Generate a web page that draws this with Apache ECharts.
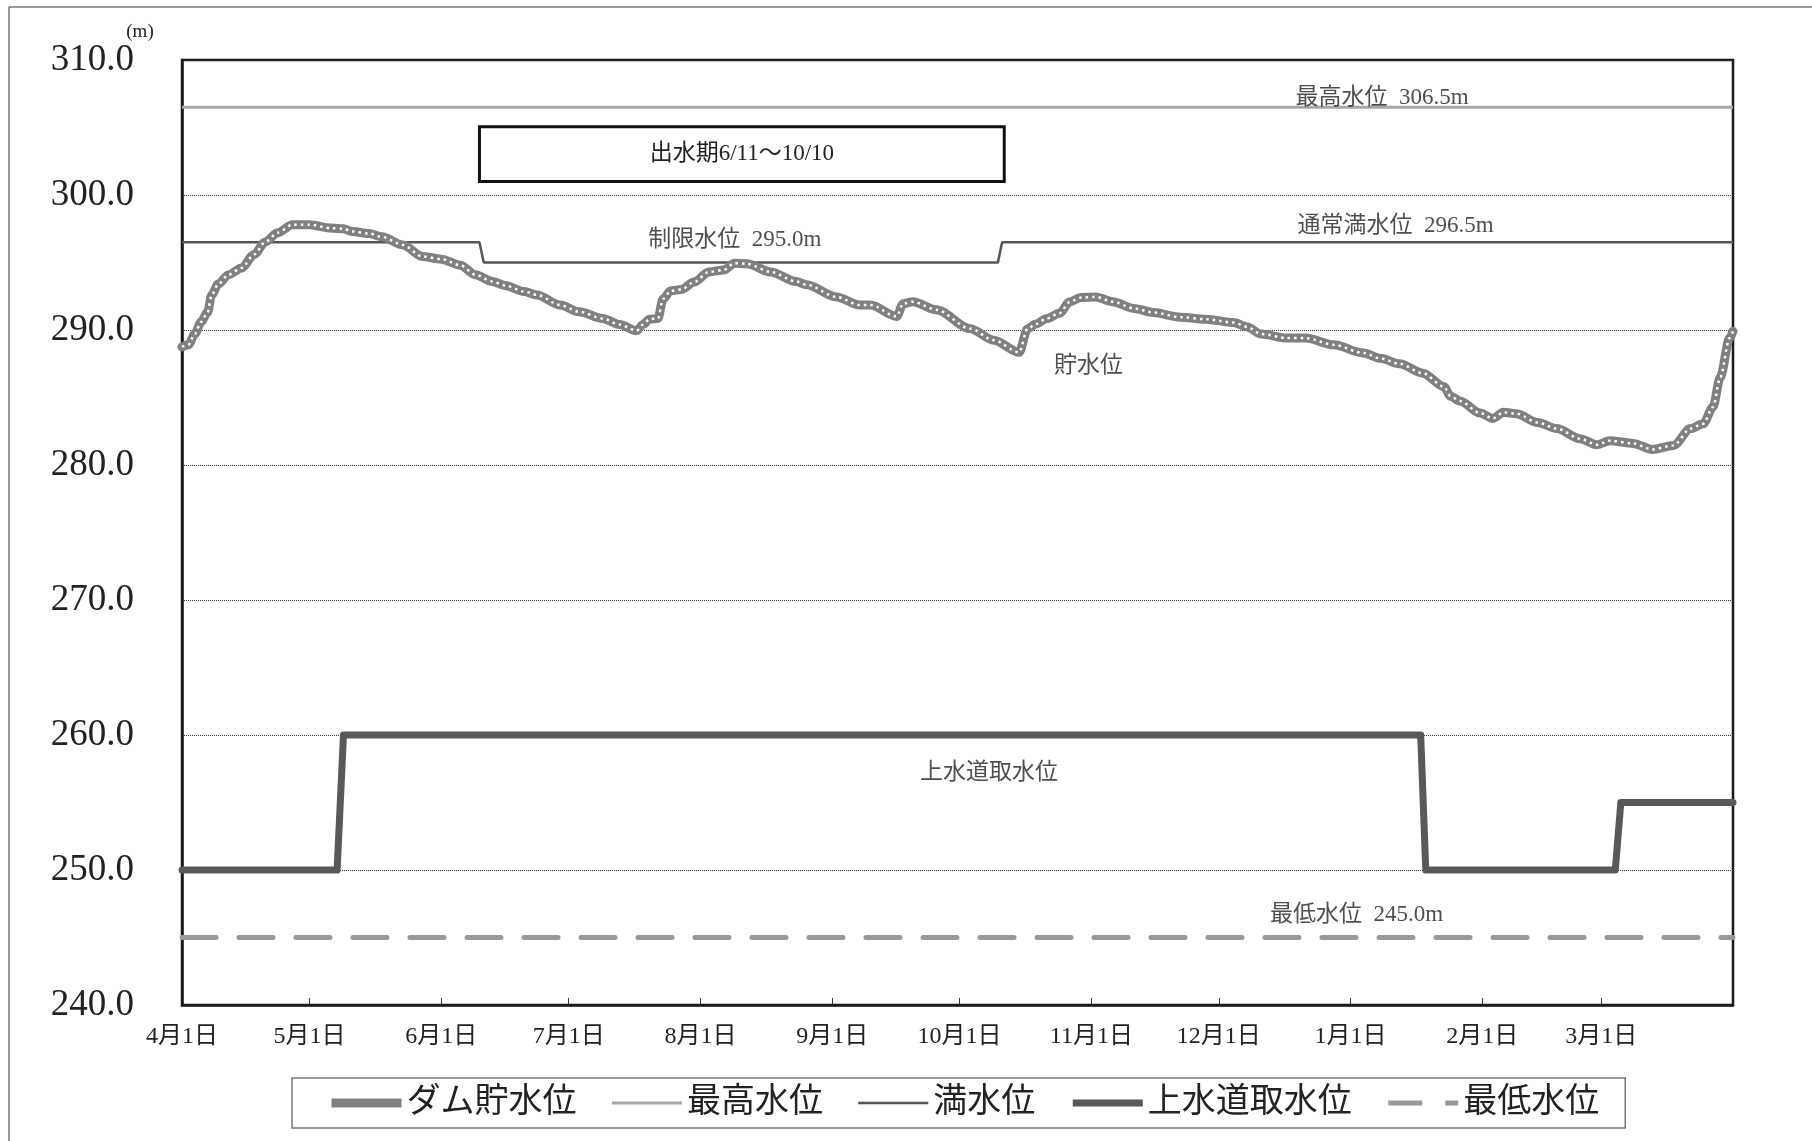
<!DOCTYPE html>
<html>
<head>
<meta charset="utf-8">
<script src="https://cdn.jsdelivr.net/npm/echarts@6/dist/echarts.min.js"></script>
<style>
html,body{margin:0;padding:0;background:#fff;}
#chart{width:1812px;height:1141px;}
</style>
</head>
<body>
<div id="chart"></div>
<script>
// ---- data (x = days since 4月1日) ----
const monthDays = [0, 30, 61, 91, 122, 153, 183, 214, 244, 275, 306, 334];
const monthLabels = ['4月1日','5月1日','6月1日','7月1日','8月1日','9月1日','10月1日','11月1日','12月1日','1月1日','2月1日','3月1日'];
const yTicks = [240, 250, 260, 270, 280, 290, 300, 310];

const damDay = [0,1.5,3,4.5,6,7,8.5,11,14,17,19.5,22.5,26,30,35,38,40,44,47,52,56.5,61,65.5,69,73,76,80.5,83.5,89,93.5,99,103,107,108.5,110,112,113.2,115,117.5,120.5,124,127.5,130,133,138.5,144.5,147,154,159.5,162,168.2,169.7,172,177.5,185.5,191,197,199,201,203.5,206.5,209,211.5,215,219,224,228.5,235,241,247.5,250.5,254,260,264.5,271,278,282,286.5,292,297,298.5,300.7,305.5,308.5,311,314,319,323.5,329,333,336,341.5,346,351,355,358,360.3,362,364.2,365];
const damLevel = [288.75,288.9,289.7,290.6,291.3,292.6,293.4,294.1,294.6,295.6,296.5,297.2,297.8,297.8,297.55,297.5,297.3,297.15,296.9,296.3,295.45,295.25,294.8,294.1,293.6,293.3,292.85,292.6,291.85,291.35,290.85,290.4,289.95,290.4,290.8,290.85,292.3,292.9,293.0,293.55,294.3,294.45,294.95,294.9,294.3,293.6,293.35,292.45,291.85,291.85,291.0,291.95,292.1,291.5,290.1,289.25,288.35,290.1,290.45,290.85,291.25,292.1,292.4,292.45,292.1,291.6,291.3,290.95,290.8,290.55,290.25,289.7,289.4,289.4,288.9,288.3,287.9,287.5,286.8,285.8,285.1,284.75,283.85,283.45,283.9,283.8,283.15,282.7,281.95,281.5,281.8,281.6,281.15,281.45,282.7,283.05,284.3,286.5,289.4,289.9];

const maxDay = [0, 365];
const maxLevel = [306.5, 306.5];

const fullDay = [0, 70, 71, 192, 193, 365];
const fullLevel = [296.5, 296.5, 295.0, 295.0, 296.5, 296.5];

const intakeDay = [0, 36.5, 38, 291.5, 292.7, 337.3, 338.6, 365];
const intakeLevel = [250, 250, 260, 260, 250, 250, 255, 255];

const minDay = [0, 365];
const minLevel = [245.0, 245.0];

const floodPeriod = { text: '出水期6/11～10/10', from: [70, 301.0], to: [193.5, 305.05] };

const noteText = ['最高水位  306.5m', '通常満水位  296.5m', '制限水位  295.0m', '貯水位', '上水道取水位', '最低水位  245.0m'];
const noteDay = [282.4, 285.6, 130.1, 213.3, 189.9, 276.4];
const noteLevel = [307.2, 297.7, 296.65, 287.3, 257.2, 246.7];

const legendNames = ['ダム貯水位', '最高水位', '満水位', '上水道取水位', '最低水位'];

const zip = (a, b) => a.map((x, i) => [x, b[i]]);
const FONT = "'Liberation Serif', 'Noto Sans CJK JP', serif";

const chart = echarts.init(document.getElementById('chart'));
chart.setOption({
  animation: false,
  backgroundColor: '#fff',
  textStyle: { fontFamily: FONT },
  graphic: [
    { type: 'line', shape: { x1: 9, y1: 7, x2: 1812, y2: 7 }, style: { stroke: '#777', lineWidth: 1.5 }, silent: true },
    { type: 'line', shape: { x1: 9, y1: 7, x2: 9, y2: 1141 }, style: { stroke: '#777', lineWidth: 1.5 }, silent: true }
  ],
  grid: { left: 182, right: 79, top: 60, bottom: 136, show: true, borderColor: '#1a1a1a', borderWidth: 2.5, backgroundColor: 'transparent' },
  legend: {
    data: legendNames.map(n => ({ name: n, itemStyle: { opacity: 0 } })),
    left: 292, top: 1078,
    padding: [8, 26, 8, 35],
    itemWidth: 70, itemHeight: 14, itemGap: 34,
    borderColor: '#777', borderWidth: 1.5,
    lineStyle: { width: 'inherit', type: 'inherit', cap: 'butt' },
    textStyle: { fontFamily: FONT, fontSize: 34, color: '#222' },
    selectedMode: false
  },
  xAxis: {
    type: 'value', min: 0, max: 365,
    axisLine: { show: true, onZero: false, lineStyle: { color: '#1a1a1a', width: 2.5 } },
    axisTick: { show: true, inside: true, length: 7, customValues: monthDays.slice(1), lineStyle: { color: '#333', width: 1 } },
    axisLabel: {
      customValues: monthDays, margin: 20, fontSize: 24, color: '#222', fontFamily: FONT,
      formatter: v => { const i = monthDays.indexOf(Math.round(v)); return i >= 0 ? monthLabels[i] : ''; }
    },
    splitLine: { show: false }
  },
  yAxis: {
    type: 'value', min: yTicks[0], max: yTicks[yTicks.length - 1], interval: 10,
    name: '(m)', nameLocation: 'end', nameGap: 14,
    nameTextStyle: { fontSize: 19, color: '#222', fontFamily: FONT, align: 'center', padding: [0, 84, 0, 0] },
    axisLine: { show: true, lineStyle: { color: '#1a1a1a', width: 2.5 } },
    axisTick: { show: false },
    axisLabel: { fontSize: 37, color: '#222', margin: 48, fontFamily: FONT, formatter: v => v.toFixed(1) },
    splitLine: { show: true, lineStyle: { color: '#333', width: 1, type: [1, 1] } }
  },
  series: [
    {
      name: '最高水位', type: 'line', symbol: 'none', data: zip(maxDay, maxLevel),
      lineStyle: { color: '#a8a8a8', width: 3 }, itemStyle: { color: '#a8a8a8' }, z: 3
    },
    {
      name: '満水位', type: 'line', symbol: 'none', data: zip(fullDay, fullLevel),
      lineStyle: { color: '#555', width: 2.5 }, itemStyle: { color: '#555' }, z: 3
    },
    {
      name: '上水道取水位', type: 'line', symbol: 'none', data: zip(intakeDay, intakeLevel),
      lineStyle: { color: '#595959', width: 7, join: 'round', cap: 'round' }, itemStyle: { color: '#595959' }, z: 3
    },
    {
      name: '最低水位', type: 'line', symbol: 'none', data: zip(minDay, minLevel),
      lineStyle: { color: '#999', width: 5, type: [34, 23], cap: 'round' }, itemStyle: { color: '#999' }, z: 3
    },
    {
      name: 'ダム貯水位', type: 'line', symbol: 'none', data: zip(damDay, damLevel),
      smooth: 0.3, smoothMonotone: 'x',
      lineStyle: { color: '#808080', width: 9, join: 'round', cap: 'round' }, itemStyle: { color: '#808080' }, z: 4,
      markArea: {
        silent: true,
        itemStyle: { color: '#fff', borderColor: '#111', borderWidth: 3 },
        label: { show: true, position: 'inside', color: '#222', fontSize: 23, fontFamily: FONT },
        data: [[{ name: floodPeriod.text, coord: floodPeriod.from }, { coord: floodPeriod.to }]]
      }
    },
    {
      name: '_dots', type: 'line', symbol: 'none', data: zip(damDay, damLevel),
      smooth: 0.3, smoothMonotone: 'x', silent: true,
      lineStyle: { color: '#fff', width: 2.5, type: [2.5, 4] }, z: 5
    },
    {
      name: '_notes', type: 'scatter', symbolSize: 0, silent: true, z: 6,
      data: noteText.map((t, i) => ({ name: t, value: [noteDay[i], noteLevel[i]] })),
      label: { show: true, position: 'inside', formatter: '{b}', color: '#222', fontSize: 23, fontFamily: FONT }
    }
  ]
});
</script>
</body>
</html>
